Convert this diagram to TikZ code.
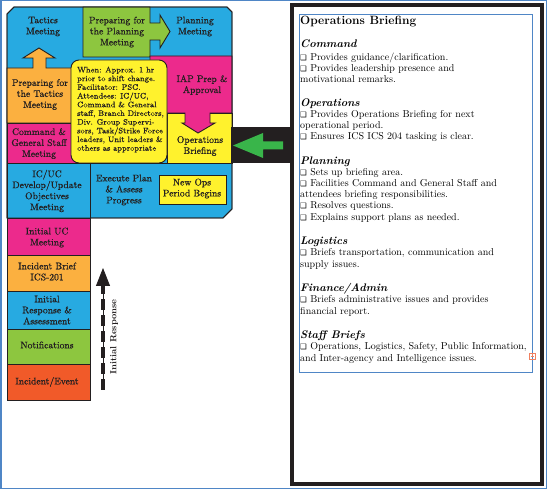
\documentclass[tikz,border=0pt]{standalone}
\usepackage{fontspec}
\newfontfamily\dv{DejaVu Sans}
\newfontfamily\cellfont{Latin Modern Roman}[FakeBold=0.6]
\usetikzlibrary{arrows.meta}
\definecolor{cblue}{HTML}{27AAE1}
\definecolor{cgreen}{HTML}{8DC63F}
\definecolor{cmag}{HTML}{EC2A8C}
\definecolor{corange}{HTML}{FBB040}
\definecolor{cyellow}{HTML}{FFF22D}
\definecolor{cred}{HTML}{F15A29}
\definecolor{carrow}{HTML}{39B54A}
\definecolor{ink}{HTML}{231F20}
\definecolor{cframe}{HTML}{4F86C6}
\definecolor{cicon}{HTML}{F08060}
\newcommand\chkbox{{\dv\fontsize{7.5}{8}\selectfont ❑}\ }
\begin{document}
\begin{tikzpicture}[x=1pt,y=-1pt,
  ln/.style={draw=ink, line width=0.9pt},
  cell/.style={font=\cellfont\fontsize{9.6}{11}\selectfont, align=center, text=ink, inner sep=0pt},
  callout/.style={font=\cellfont\fontsize{8}{8.7}\selectfont, align=left, text=ink, inner sep=0pt},
  rt/.style={anchor=base west, inner sep=0pt, font=\fontsize{10}{11}\selectfont, text=black},
  rh/.style={anchor=base west, inner sep=0pt, font=\fontsize{11}{12}\selectfont\bfseries\itshape, text=black}]
\useasboundingbox (0,0) rectangle (547,489);
% outer page border
\draw[cframe, line width=1.5pt] (0.75,0.75) rectangle (546.25,488.25);

% ---- left cycle diagram ----
\draw[ln, fill=cblue] (7,14) -- (14,7) -- (227,7) -- (232,12) -- (232,209) -- (223,218) -- (7,218) -- cycle;
% green cell with right arrow
\draw[ln, fill=cgreen] (83,7) -- (150,7) -- (150,23) -- (160,23) -- (160,15) -- (170,31.5) -- (160,48) -- (160,40) -- (150,40) -- (150,57) -- (83,57) -- cycle;
% operations briefing box
\draw[ln, fill=cyellow] (167,113) rectangle (232,163);
% IAP magenta with down arrow
\draw[ln, fill=cmag] (150,56) -- (232,56) -- (232,113) -- (210,113) -- (210,123) -- (215,123) -- (198,133) -- (182,123) -- (185,123) -- (185,113) -- (150,113) -- cycle;
% preparing for tactics (orange) with up arrow
\draw[ln, fill=corange] (7,68) -- (33,68) -- (33,58) -- (23,58) -- (39,48) -- (55,58) -- (46,58) -- (46,68) -- (72,68) -- (72,123) -- (7,123) -- cycle;
% command & general staff
\draw[ln, fill=cmag] (7,123) rectangle (76,163);
% callout
\draw[ln, fill=cyellow, rounded corners=8pt] (71,60) rectangle (167,163);
% row 3
\draw[ln] (7,163) -- (232,163);
\draw[ln, fill=cblue] (7,163) rectangle (90,218);
\draw[ln, fill=cyellow] (159,175) rectangle (226,204);
% lower stack
\draw[ln, fill=cmag] (7,218) rectangle (90,255);
\draw[ln, fill=corange] (7,255) rectangle (90,291);
\draw[ln, fill=cblue] (7,291) rectangle (90,329);
\draw[ln, fill=cgreen] (7,329) rectangle (90,364);
\draw[ln, fill=cred] (7,364) rectangle (90,400);
% outline again
\draw[ln] (7,14) -- (14,7) -- (227,7) -- (232,12) -- (232,209) -- (223,218) -- (7,218) -- cycle;

% cell texts
\node[cell] (tact) at (43,26.5) {Tactics\\Meeting};
\node[cell] (pplan) at (117,32) {Preparing for\\the Planning\\Meeting};
\node[cell] (plan) at (195,26.5) {Planning\\Meeting};
\node[cell] (ptac) at (40,94.5) {Preparing for\\the Tactics\\Meeting};
\node[cell] (iap) at (202,85) {IAP Prep \&\\Approval};
\node[cell] (cgs) at (39,143.5) {Command \&\\General Staff\\Meeting};
\node[cell] (ops) at (200,146) {Operations\\Briefing};
\node[cell] (icuc) at (47,191) {IC/UC\\Develop/Update\\Objectives\\Meeting};
\node[cell] (exec) at (124,190) {Execute Plan\\\& Assess\\Progress};
\node[cell] (newops) at (192,188.5) {New Ops\\Period Begins};
\node[cell] (iuc) at (47,237.5) {Initial UC\\Meeting};
\node[cell] (ib) at (47,271.5) {Incident Brief\\ICS-201};
\node[cell] (ira) at (47,310) {Initial\\Response \&\\Assessment};
\node[cell] (notif) at (47,345) {Notifications};
\node[cell] (inc) at (47,382) {Incident/Event};
\node[callout, anchor=west] (call) at (77,109.5) {When: Approx. 1 hr\\prior to shift change.\\Facilitator: PSC.\\Attendees: IC/UC,\\Command \& General\\staff, Branch Directors,\\Div. Group Supervi-\\sors, Task/Strike Force\\leaders, Unit leaders \&\\others as appropriate};

% initial response dashed arrow
\coordinate (ds) at (103,390);
\coordinate (dm) at (103,286);
\coordinate (de) at (103,268);
\draw[ink, line width=0.8pt, -{Triangle[width=14pt,length=18pt]}] (ds) -- (de);
\draw[ink, line width=3.5pt, dash pattern=on 11pt off 5pt] (ds) -- (dm);
\node[rotate=90, font=\fontsize{9}{9}\selectfont\bfseries, text=ink, inner sep=0pt] (lir) at (114,337) {Initial Response};

% black block with green arrow
\fill[ink] (231,127) rectangle (292,163);
\fill[carrow] (233,145.5) -- (263,133) -- (263,141.5) -- (283,141.5) -- (283,149.5) -- (263,149.5) -- (263,158) -- cycle;

% ---- right panel ----
\draw[ink, line width=4pt] (292,5) rectangle (542,484);
\draw[cframe, line width=0.9pt] (299.5,14.5) rectangle (532,372);
\draw[cicon, line width=0.6pt] (529,353) rectangle (535.5,359.5);
\draw[cicon, line width=0.6pt] (530.5,356.25) -- (534,356.25) (532.25,354.5) -- (532.25,356.25);

\node[anchor=base west, inner sep=0pt, font=\fontsize{12}{13}\selectfont\bfseries] (title) at (300,25) {Operations Briefing};
\node[rh] (h1) at (300,48) {Command};
\node[rt] (a1) at (300,61) {\chkbox Provides guidance/clarification.};
\node[rt] (a2) at (300,72) {\chkbox Provides leadership presence and};
\node[rt] (a3) at (300,83) {motivational remarks.};
\node[rh] (h2) at (300,106.5) {Operations};
\node[rt] (b1) at (300,118) {\chkbox Provides Operations Briefing for next};
\node[rt] (b2) at (300,129) {operational period.};
\node[rt] (b3) at (300,140) {\chkbox Ensures ICS ICS 204 tasking is clear.};
\node[rh] (h3) at (300,164.5) {Planning};
\node[rt] (c1) at (300,176) {\chkbox Sets up briefing area.};
\node[rt] (c2) at (300,187) {\chkbox Facilities Command and General Staff and};
\node[rt] (c3) at (300,198) {attendees briefing responsibilities.};
\node[rt] (c4) at (300,209) {\chkbox Resolves questions.};
\node[rt] (c5) at (300,220.5) {\chkbox Explains support plans as needed.};
\node[rh] (h4) at (300,245) {Logistics};
\node[rt] (d1) at (300,256) {\chkbox Briefs transportation, communication and};
\node[rt] (d2) at (300,267.5) {supply issues.};
\node[rh] (h5) at (300,291.5) {Finance/Admin};
\node[rt] (e1) at (300,303) {\chkbox Briefs administrative issues and provides};
\node[rt] (e2) at (300,314.5) {financial report.};
\node[rh] (h6) at (300,338.5) {Staff Briefs};
\node[rt] (f1) at (300,350) {\chkbox Operations, Logistics, Safety, Public Information,};
\node[rt] (f2) at (300,361.5) {and Inter-agency and Intelligence issues.};
\end{tikzpicture}
\end{document}
